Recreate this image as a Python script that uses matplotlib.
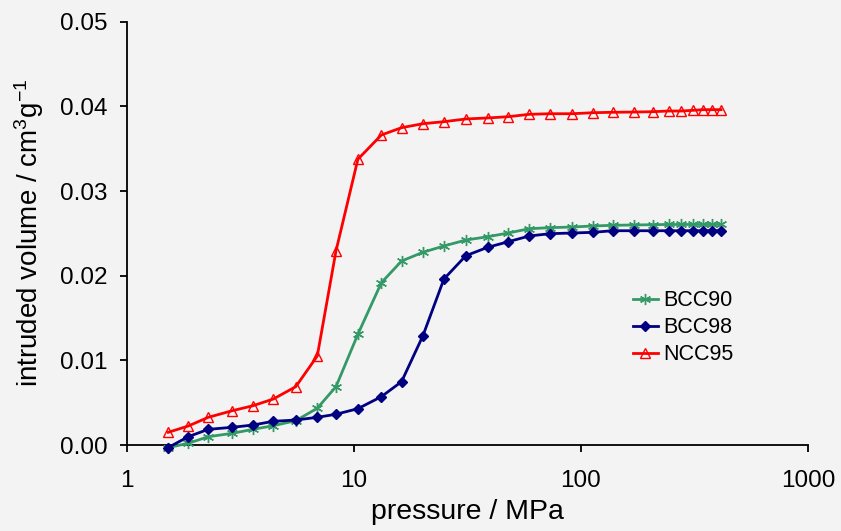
import matplotlib
matplotlib.use("Agg")
import matplotlib.pyplot as plt
from matplotlib.ticker import FixedLocator, FuncFormatter, NullLocator

plt.rcParams['font.family'] = ['Liberation Sans', 'DejaVu Sans']
plt.rcParams['mathtext.default'] = 'regular'

pressure = [1.52, 1.86, 2.28, 2.91, 3.59, 4.41, 5.54, 6.89, 8.33, 10.4, 13.2, 16.2,
            20.1, 24.9, 31.1, 38.8, 47.8, 59.2, 73, 91.5, 113, 138, 172, 207, 243,
            276, 311, 346, 379, 414]

bcc90 = [-0.0003, 0.0002, 0.00098, 0.00138, 0.00185, 0.00228, 0.00287, 0.00434,
         0.00689, 0.01308, 0.01917, 0.02173, 0.02276, 0.02351, 0.02421, 0.0246,
         0.02504, 0.02555, 0.02567, 0.02575, 0.02587, 0.02595, 0.02599, 0.02602,
         0.02605, 0.02605, 0.02605, 0.02605, 0.02605, 0.02605]

bcc98 = [-0.0003, 0.00098, 0.00185, 0.00209, 0.00236, 0.0028, 0.00295, 0.00327,
         0.00363, 0.00429, 0.00571, 0.00748, 0.01288, 0.01961, 0.02236, 0.02335,
         0.02401, 0.02469, 0.02496, 0.02504, 0.02512, 0.02531, 0.02531, 0.02531,
         0.02531, 0.02531, 0.02531, 0.02531, 0.02531, 0.02531]

ncc95 = [0.0015, 0.00224, 0.00327, 0.00405, 0.00464, 0.00543, 0.00689, 0.01051,
         0.02292, 0.03375, 0.03662, 0.03748, 0.03795, 0.03819, 0.03851, 0.03863,
         0.03878, 0.03906, 0.03913, 0.03913, 0.03925, 0.0393, 0.03933, 0.03937,
         0.03945, 0.03945, 0.03953, 0.03961, 0.03961, 0.03961]

x_ticks = [1, 10, 100, 1000]
y_ticks = [0.00, 0.01, 0.02, 0.03, 0.04, 0.05]

bg = '#f3f3f3'
fig = plt.figure(figsize=(8.41, 5.31), dpi=100, facecolor=bg)
ax = fig.add_axes([127/841, 1-445/531, 681/841, 423.3/531], facecolor=bg)

ax.plot(pressure, bcc90, color='#339966', lw=2.0, marker=(6, 2, 0), ms=8,
        mew=1.0, label='BCC90', clip_on=False, zorder=3)
ax.plot(pressure, bcc98, color='#000080', lw=2.0, marker='D', ms=5.5,
        label='BCC98', clip_on=False, zorder=4)
ax.plot(pressure, ncc95, color='#ff0000', lw=2.0, marker='^', ms=7,
        mfc='none', mec='#ff0000', mew=1.0, label='NCC95', clip_on=False, zorder=5)

ax.set_xscale('log')
ax.set_xlim(1, 1000)
ax.set_ylim(0, 0.05)
ax.xaxis.set_major_locator(FixedLocator(x_ticks))
ax.xaxis.set_minor_locator(NullLocator())
ax.xaxis.set_major_formatter(FuncFormatter(lambda v, p: f'{v:g}'))
ax.yaxis.set_major_locator(FixedLocator(y_ticks))
ax.yaxis.set_major_formatter(FuncFormatter(lambda v, p: f'{v:.2f}'))

for s in ['top', 'right']:
    ax.spines[s].set_visible(False)
for s in ['left', 'bottom']:
    ax.spines[s].set_linewidth(1.3)
ax.tick_params(axis='both', direction='out', length=5, width=1.3,
               labelsize=17.5, color='black')
ax.tick_params(axis='y', pad=9)
ax.tick_params(axis='x', pad=13)

ax.set_xlabel('pressure / MPa', fontsize=20.5, labelpad=5)
ax.set_ylabel('intruded volume / cm$^3$g$^{-1}$', fontsize=20, labelpad=10)

leg = ax.legend(loc='upper left', bbox_to_anchor=(0.743, 0.365), frameon=False,
                fontsize=15.5, borderpad=0, borderaxespad=0, handlelength=1.15,
                handletextpad=0.25, labelspacing=0.27)

fig.savefig('out.png', dpi=100, facecolor=bg)
